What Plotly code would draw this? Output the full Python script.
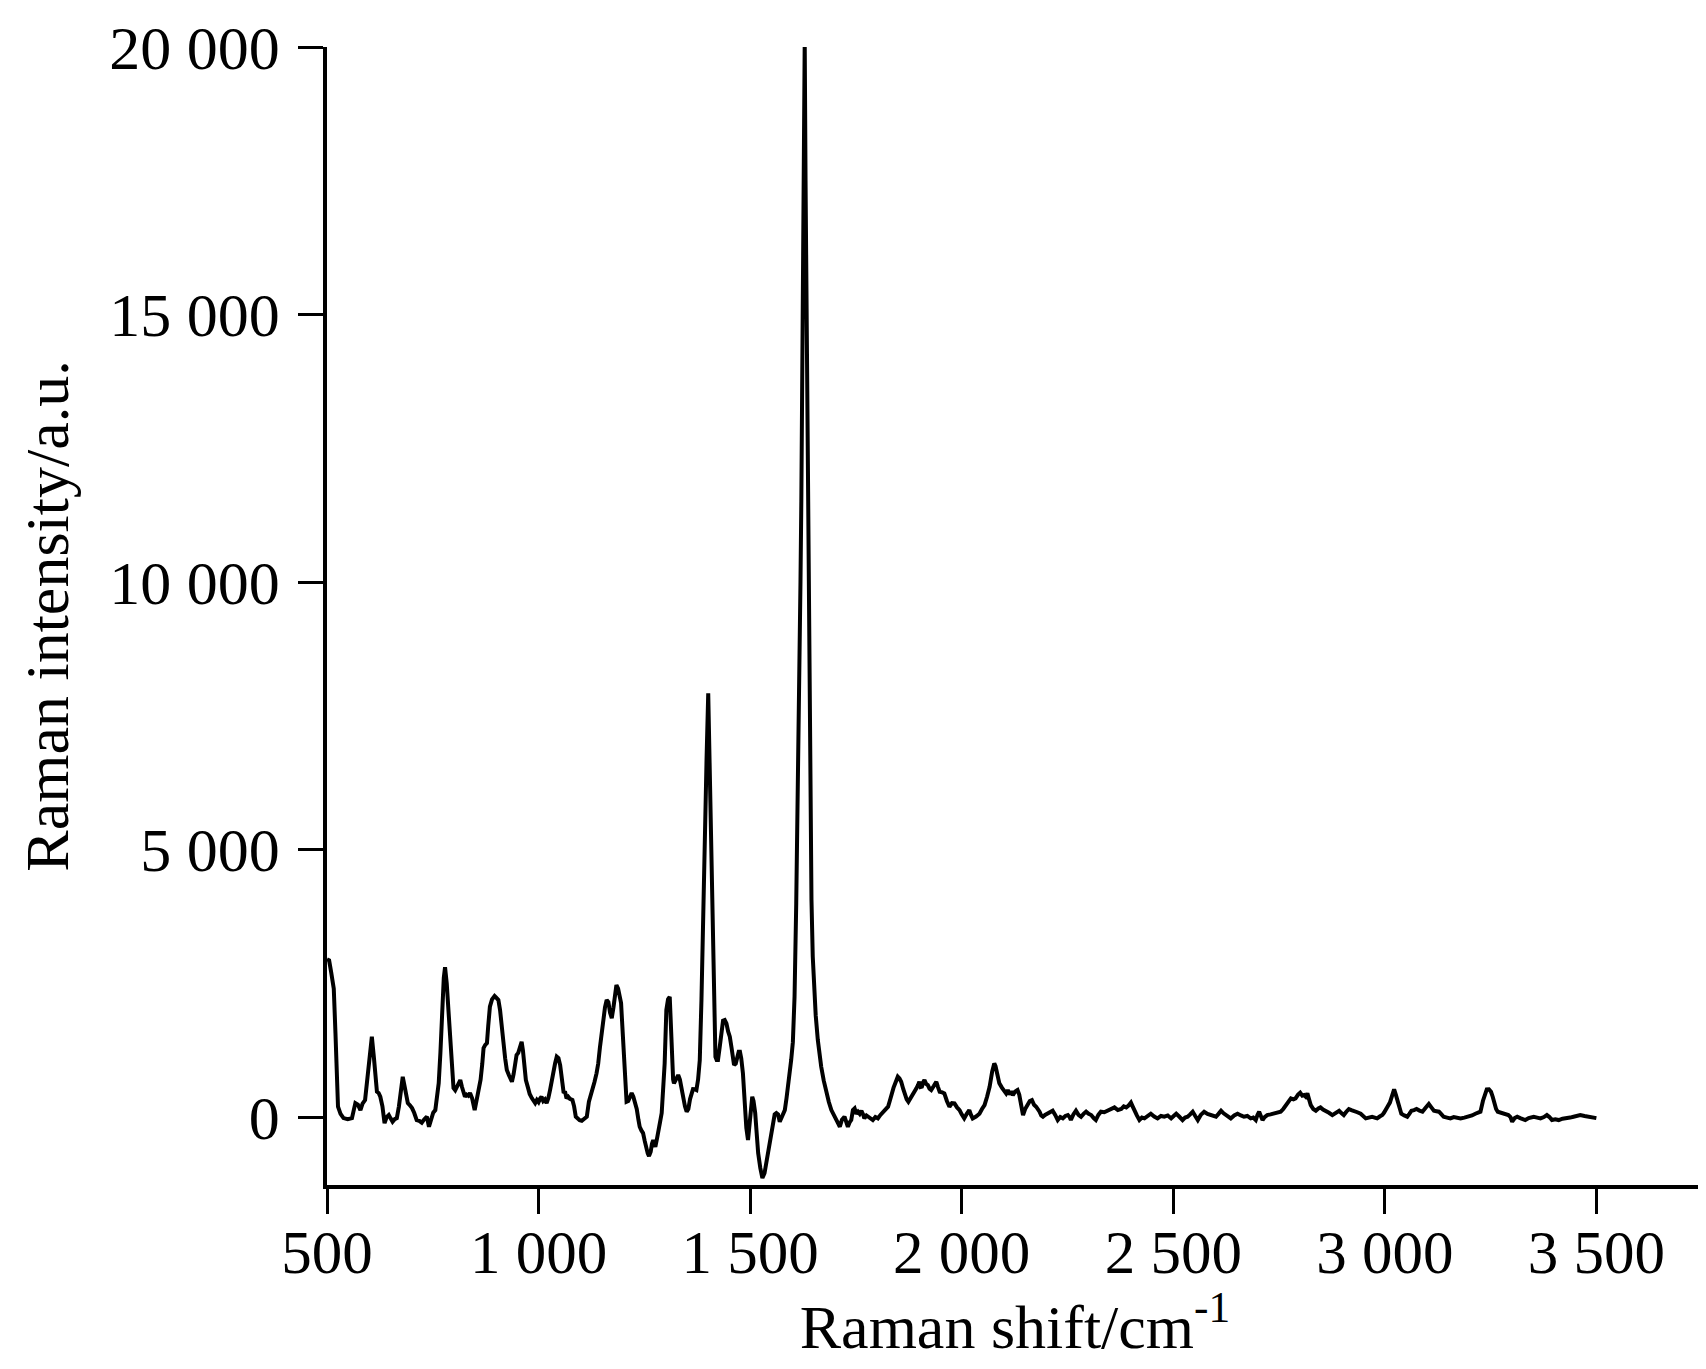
import plotly.graph_objects as go

# Raman shift (cm^-1) and intensity (a.u.)
raman_shift = [
    500, 505, 510, 516, 520, 526, 532, 539, 549, 559, 567, 573, 579, 584, 590, 597, 602, 606, 611, 614,
    618, 622, 626, 631, 636, 641, 646, 650, 655, 660, 665, 670, 675, 679, 684, 688, 691, 696, 701, 706,
    712, 718, 724, 730, 736, 741, 746, 751, 756, 760, 764, 768, 772, 776, 779, 783, 787, 791, 795, 799,
    803, 807, 811, 815, 819, 823, 826, 830, 834, 838, 843, 849, 853, 858, 863, 867, 870, 874, 878, 881,
    885, 890, 896, 900, 905, 909, 913, 917, 921, 925, 930, 934, 937, 941, 945, 948, 952, 956, 960, 963,
    966, 970, 975, 979, 984, 988, 992, 996, 1000, 1004, 1007, 1011, 1015, 1019, 1023, 1027, 1031, 1035, 1039, 1043,
    1047, 1051, 1055, 1059, 1063, 1066, 1070, 1074, 1080, 1084, 1088, 1093, 1097, 1102, 1108, 1114, 1119, 1123, 1127, 1132,
    1137, 1141, 1145, 1149, 1153, 1157, 1161, 1165, 1169, 1173, 1177, 1181, 1184, 1188, 1192, 1195, 1198, 1200, 1204, 1208,
    1212, 1216, 1220, 1224, 1228, 1232, 1236, 1239, 1243, 1247, 1251, 1255, 1258, 1261, 1265, 1268, 1271, 1274, 1276, 1280,
    1283, 1287, 1291, 1294, 1298, 1302, 1306, 1310, 1314, 1318, 1320, 1325, 1330, 1334, 1338, 1342, 1346, 1350, 1354, 1358,
    1362, 1365, 1369, 1373, 1377, 1381, 1385, 1388, 1392, 1397, 1401, 1404, 1409, 1412, 1415, 1418, 1421, 1424, 1428, 1432,
    1436, 1440, 1444, 1448, 1452, 1456, 1460, 1462, 1466, 1470, 1473, 1476, 1479, 1483, 1487, 1491, 1495, 1499, 1502, 1505,
    1508, 1512, 1515, 1519, 1524, 1529, 1534, 1538, 1543, 1549, 1554, 1558, 1562, 1566, 1570, 1575, 1580, 1582, 1586, 1590,
    1594, 1597, 1601, 1605, 1609, 1612, 1615, 1619, 1621, 1624, 1627, 1629, 1631, 1634, 1637, 1639, 1641, 1645, 1648, 1651,
    1655, 1660, 1664, 1668, 1674, 1680, 1686, 1692, 1698, 1704, 1708, 1712, 1717, 1723, 1727, 1731, 1735, 1739, 1743, 1747,
    1751, 1755, 1759, 1763, 1767, 1770, 1775, 1780, 1785, 1790, 1796, 1802, 1808, 1814, 1820, 1826, 1830, 1834, 1839, 1843,
    1846, 1849, 1853, 1857, 1862, 1866, 1870, 1874, 1879, 1885, 1889, 1893, 1897, 1900, 1903, 1906, 1909, 1912, 1916, 1920,
    1924, 1928, 1934, 1940, 1944, 1948, 1954, 1959, 1965, 1971, 1977, 1983, 1989, 1995, 2000, 2006, 2012, 2018, 2022, 2026,
    2034, 2042, 2048, 2054, 2060, 2066, 2072, 2077, 2080, 2084, 2089, 2095, 2101, 2105, 2109, 2113, 2117, 2121, 2126, 2132,
    2136, 2139, 2142, 2145, 2150, 2156, 2161, 2166, 2171, 2176, 2180, 2184, 2188, 2192, 2197, 2203, 2209, 2215, 2221, 2227,
    2233, 2239, 2245, 2251, 2255, 2258, 2264, 2270, 2276, 2282, 2288, 2294, 2300, 2306, 2312, 2317, 2323, 2329, 2337, 2345,
    2353, 2361, 2369, 2377, 2383, 2389, 2395, 2400, 2404, 2408, 2414, 2420, 2426, 2432, 2440, 2447, 2455, 2463, 2471, 2479,
    2487, 2495, 2501, 2507, 2514, 2522, 2528, 2534, 2540, 2546, 2552, 2558, 2565, 2573, 2581, 2589, 2595, 2601, 2607, 2613,
    2619, 2624, 2630, 2636, 2644, 2652, 2660, 2667, 2675, 2683, 2689, 2695, 2699, 2703, 2707, 2711, 2716, 2722, 2730, 2738,
    2746, 2754, 2760, 2766, 2772, 2778, 2784, 2789, 2795, 2800, 2805, 2809, 2813, 2817, 2821, 2825, 2831, 2837, 2843, 2848,
    2854, 2860, 2868, 2876, 2884, 2892, 2898, 2903, 2909, 2915, 2921, 2927, 2935, 2943, 2949, 2955, 2962, 2970, 2976, 2982,
    2988, 2994, 2998, 3002, 3007, 3012, 3017, 3022, 3026, 3031, 3035, 3039, 3046, 3053, 3058, 3063, 3069, 3075, 3082, 3089,
    3096, 3104, 3110, 3116, 3122, 3128, 3134, 3139, 3147, 3155, 3163, 3171, 3179, 3188, 3198, 3206, 3214, 3220, 3226, 3232,
    3236, 3241, 3246, 3251, 3255, 3259, 3263, 3267, 3274, 3281, 3287, 3292, 3297, 3301, 3307, 3313, 3320, 3326, 3332, 3340,
    3346, 3352, 3360, 3368, 3376, 3383, 3389, 3395, 3403, 3411, 3420, 3431, 3438, 3446, 3454, 3462, 3472, 3482, 3492, 3500,
]
intensity = [
    2950, 2930, 2700, 2400, 1570, 193, 60, -20, -40, -20, 260, 230, 130, 250, 318, 800, 1250, 1500, 1100, 700,
    473, 450, 380, 200, -115, 0, 37, -20, -87, -40, -20, 200, 600, 753, 550, 320, 260, 220, 168, 80,
    -56, -70, -106, -40, 6, -181, -30, 80, 130, 350, 630, 1200, 2000, 2600, 2800, 2500, 2000, 1570, 900, 542,
    500, 560, 660, 692, 560, 450, 380, 420, 400, 449, 350, 130, 300, 449, 700, 1000, 1290, 1350, 1383, 1700,
    2062, 2200, 2262, 2230, 2187, 2000, 1757, 1400, 1100, 878, 780, 700, 660, 800, 1050, 1159, 1200, 1300, 1407, 1250,
    1000, 692, 550, 430, 355, 300, 260, 320, 280, 350, 380, 300, 330, 260, 350, 500, 692, 850, 1000, 1127,
    1100, 972, 750, 473, 460, 350, 380, 340, 318, 200, 6, -40, -60, -69, -30, 6, 286, 400, 449, 650,
    817, 1000, 1300, 1570, 1800, 2050, 2187, 2150, 1950, 1850, 2050, 2350, 2467, 2400, 2250, 2130, 1700, 1383, 700, 286,
    300, 400, 449, 380, 286, 150, -50, -181, -250, -299, -450, -600, -680, -729, -650, -500, -430, -520, -555, -400,
    -299, -100, 75, 400, 1000, 2000, 2200, 2249, 1400, 700, 630, 720, 785, 700, 505, 380, 200, 100, 150, 336,
    450, 523, 520, 505, 700, 1065, 2187, 3500, 5052, 6672, 7920, 6672, 5052, 3000, 2187, 1127, 1065, 1065, 1300, 1600,
    1800, 1813, 1750, 1600, 1501, 1300, 1050, 972, 1000, 1150, 1220, 1220, 1100, 817, 300, -200, -430, -100, 250, 380,
    300, 75, -250, -673, -950, -1140, -1050, -860, -600, -299, -50, 50, 75, 50, -87, 0, 100, 130, 350, 567,
    800, 1065, 1400, 2250, 4000, 5500, 6859, 10000, 11500, 14500, 17500, 20100, 17500, 14500, 11400, 9000, 6859, 4056, 3000, 2312,
    1900, 1439, 1150, 940, 680, 449, 280, 130, 20, -87, -120, -181, -50, 6, -100, -181, -100, -56, 130, 160,
    60, 100, 60, 118, 50, -25, 30, 6, -20, -56, 0, -25, 40, 100, 150, 193, 300, 442, 550, 630,
    700, 753, 720, 660, 520, 411, 330, 286, 350, 411, 480, 536, 600, 660, 560, 567, 650, 692, 620, 598,
    530, 505, 580, 660, 560, 473, 460, 442, 300, 193, 260, 255, 180, 130, 50, -25, 60, 130, 40, -25,
    10, 62, 150, 224, 380, 567, 850, 1003, 950, 800, 630, 550, 473, 442, 505, 420, 480, 411, 473, 505,
    420, 318, 150, 37, 150, 224, 300, 318, 230, 193, 150, 100, 30, 6, 40, 62, 90, 118, 40, -56,
    0, -25, 20, 37, 0, -56, 50, 118, 40, 6, 60, 100, 60, 37, -20, -56, 40, 100, 90, 118,
    150, 180, 130, 150, 200, 180, 220, 270, 200, 118, 30, -56, -10, -25, 30, 62, 10, -25, 20, 6,
    30, -25, 20, 62, 10, -56, -10, 6, 50, 100, 20, -56, 40, 100, 60, 37, 20, 6, 60, 118,
    70, 37, 10, -25, 30, 62, 30, 6, 20, -25, -10, -56, 40, 100, 20, -56, 0, 37, 50, 62,
    80, 100, 150, 224, 300, 349, 330, 349, 420, 455, 400, 411, 380, 442, 330, 224, 150, 118, 160, 180,
    140, 118, 80, 37, 80, 118, 70, 37, 100, 150, 130, 118, 90, 62, 20, -25, -10, 6, -10, -25,
    10, 37, 80, 150, 200, 270, 400, 520, 420, 270, 150, 62, 30, 6, 60, 118, 130, 150, 120, 100,
    170, 243, 180, 118, 110, 100, 50, 6, -10, -25, 0, -15, -25, -10, 6, 30, 62, 80, 100, 305,
    420, 517, 520, 473, 380, 255, 150, 100, 80, 62, 50, 37, 0, -87, -20, 6, -20, -40, -56, -20,
    0, 6, -10, -25, 0, 37, 0, -56, -40, -56, -30, -25, -10, 6, 20, 37, 20, 6, -10, -20,
]

x_tick_vals = [500, 1000, 1500, 2000, 2500, 3000, 3500]
x_tick_text = ["500", "1 000", "1 500", "2 000", "2 500", "3 000", "3 500"]
y_tick_vals = [0, 5000, 10000, 15000, 20000]
y_tick_text = ["0", "5 000", "10 000", "15 000", "20 000"]

FONT = "Liberation Serif, Times New Roman, serif"

fig = go.Figure()
fig.add_trace(go.Scatter(
    x=raman_shift, y=intensity, mode="lines",
    line=dict(color="black", width=4),
    showlegend=False,
))

fig.update_layout(
    width=1698, height=1353,
    margin=dict(l=319, r=3, t=39, b=176),
    plot_bgcolor="white", paper_bgcolor="white",
    font=dict(family=FONT, size=62, color="black"),
)
fig.update_xaxes(
    range=[500, 3752], showgrid=False, zeroline=False, automargin=False,
    showline=True, linecolor="black", linewidth=4,
    ticks="outside", ticklen=25, tickwidth=3, tickcolor="black",
    tickvals=x_tick_vals, ticktext=x_tick_text,
    ticklabelstandoff=-14,
    tickfont=dict(family=FONT, size=61, color="black"),
    title=dict(text="Raman shift/cm<sup>-1</sup>", font=dict(family=FONT, size=62, color="black"), standoff=30),
)
fig.update_yaxes(
    range=[-1270, 20000], showgrid=False, zeroline=False, automargin=False,
    showline=True, linecolor="black", linewidth=3.5,
    ticks="outside", ticklen=25, tickwidth=3, tickcolor="black",
    tickvals=y_tick_vals, ticktext=y_tick_text,
    ticklabelstandoff=6,
    tickfont=dict(family=FONT, size=62, color="black"),
    title=dict(text="Raman intensity/a.u.", font=dict(family=FONT, size=62, color="black"), standoff=22),
)

fig.write_html("out.html")
